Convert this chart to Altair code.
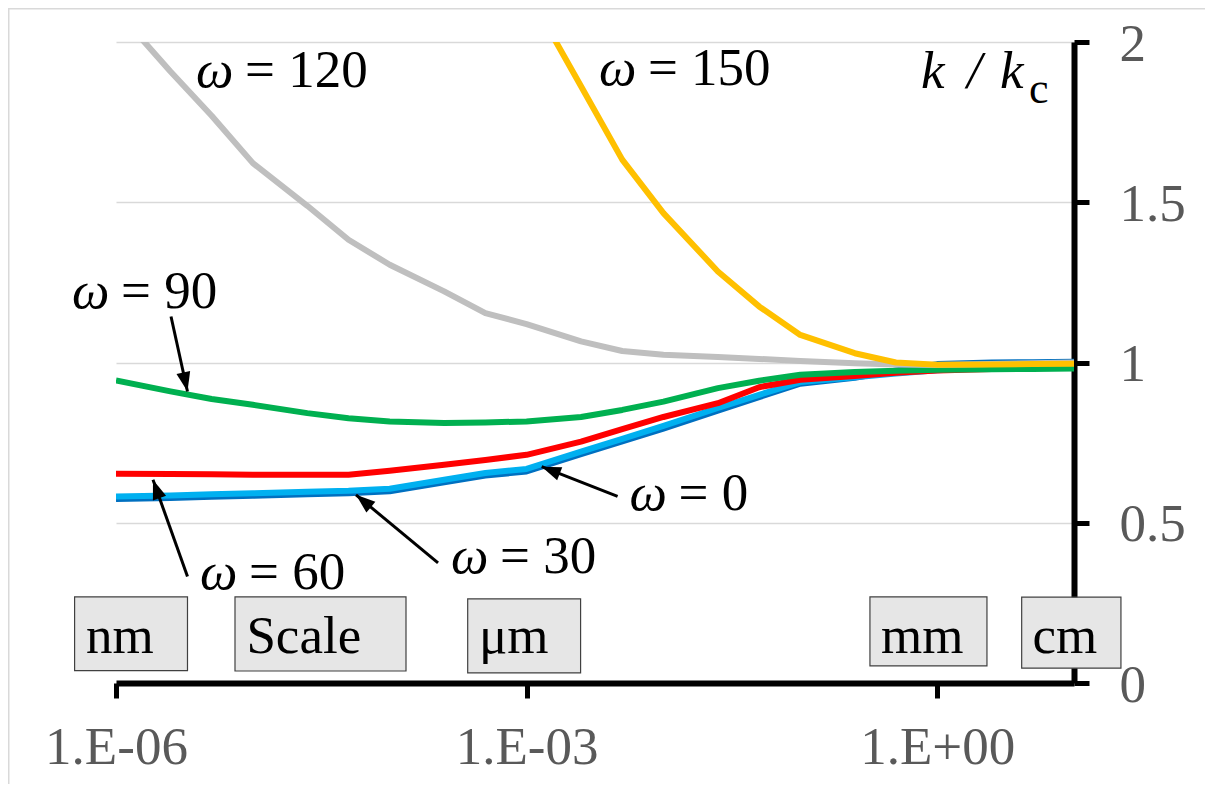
import altair as alt
import pandas as pd

# ---------------- data ----------------
x_vals = [1e-6, 2.5e-6, 5e-6, 1e-5, 2.5e-5, 5e-5, 1e-4, 2.5e-4, 5e-4,
          1e-3, 2.5e-3, 5e-3, 1e-2, 2.5e-2, 5e-2, 1e-1, 2.5e-1, 5e-1,
          1.0, 2.5, 5.0, 10.0]

k_w0 = [0.574, 0.577, 0.581, 0.584, 0.589, 0.592, 0.598, 0.626, 0.647,
        0.660, 0.714, 0.754, 0.794, 0.850, 0.892, 0.934, 0.952, 0.975,
        0.995, 1.000, 1.001, 1.002]
k_w30 = [0.582, 0.585, 0.589, 0.592, 0.597, 0.600, 0.606, 0.634, 0.655,
         0.668, 0.722, 0.762, 0.802, 0.858, 0.899, 0.939, 0.954, 0.966,
         0.976, 0.983, 0.988, 0.990]
k_w60 = [0.653, 0.652, 0.651, 0.650, 0.650, 0.650, 0.662, 0.681, 0.696,
         0.712, 0.753, 0.792, 0.830, 0.873, 0.923, 0.946, 0.958, 0.968,
         0.975, 0.980, 0.983, 0.985]
k_w90 = [0.944, 0.910, 0.886, 0.868, 0.842, 0.826, 0.816, 0.811, 0.813,
         0.816, 0.830, 0.852, 0.878, 0.920, 0.943, 0.962, 0.970, 0.974,
         0.977, 0.979, 0.980, 0.981]
k_w120 = [2.100, 1.908, 1.770, 1.622, 1.489, 1.383, 1.305, 1.222, 1.154,
          1.120, 1.066, 1.036, 1.024, 1.017, 1.011, 1.005, 0.998, 0.994,
          0.992, 0.995, 0.998, 1.000]
k_w150 = [None, None, None, None, None, None, None, None, None,
          2.163, 1.862, 1.633, 1.466, 1.284, 1.175, 1.086, 1.029, 1.000,
          0.993, 0.994, 0.995, 0.996]

series_values = [k_w0, k_w30, k_w60, k_w90, k_w120, k_w150]
series_names = ["ω = 0", "ω = 30", "ω = 60", "ω = 90", "ω = 120", "ω = 150"]
series_colors = ["#0070C0", "#00B0F0", "#FF0000", "#00B050", "#BFBFBF", "#FFC000"]

x_tick_values = [1e-6, 1e-3, 1.0]
x_tick_labels = ["1.E-06", "1.E-03", "1.E+00"]
y_tick_values = [0, 0.5, 1, 1.5, 2]

# curve labels (log10 x of text origin, baseline y)
lab_greek = ["ω", "ω", "ω", "ω", "ω", "ω"]
lab_rest = ["= 120", "= 150", "= 90", "= 60", "= 30", "= 0"]
lab_logx = [-5.4155, -2.471, -6.3215, -5.386, -3.552, -2.248]
lab_y = [1.860, 1.867, 1.171, 0.294, 0.344, 0.540]

# arrows (log10 x, y) tail -> head
arr_tail_logx = [-5.598, -5.4776, -3.647, -2.335]
arr_tail_y = [1.1436, 0.332, 0.375, 0.582]
arr_head_logx = [-5.4776, -5.7297, -4.2464, -2.8895]
arr_head_y = [0.9095, 0.634, 0.587, 0.675]
arr_angle = [167.6, 340.4, 309.7, 291.6]

# scale boxes
box_text = ["nm", "Scale", "μm", "mm", "cm"]
box_logx1 = [-6.3025, -5.1305, -3.4302, -0.491, 0.6177]
box_logx2 = [-5.4776, -3.881, -2.6053, 0.364, 1.343]
box_y1 = [0.2687, 0.2687, 0.2625, 0.2687, 0.2678]
box_y2 = [0.0387, 0.0374, 0.0315, 0.0534, 0.0462]
box_text_logx = [-6.2192, -5.0472, -3.348, -0.4104, 0.696]
box_text_y = [0.094, 0.094, 0.094, 0.094, 0.094]

# axis title pieces  k / k_c
title_text = ["k", "/", "k", "c"]
title_logx = [-0.118, 0.218, 0.459, 0.671]
title_y = [1.857, 1.857, 1.857, 1.81]
title_size = [53, 53, 53, 44]
title_style = ["italic", "italic", "italic", "normal"]

# ---------------- chart ----------------
FONT = "Liberation Serif"
FS = 53

x_label_expr = "[" + ",".join("'" + s + "'" for s in x_tick_labels) + "]" \
               "[round((log(datum.value)/LN10 + 6)/3)]"

x_scale = alt.Scale(type="log", domain=[1e-6, 10], nice=False)
y_scale = alt.Scale(domain=[0, 2], nice=False, zero=False)

x_axis = alt.Axis(values=x_tick_values, labelExpr=x_label_expr, grid=False,
                  title=None, domainColor="black", domainWidth=6,
                  tickColor="black", tickWidth=5, tickSize=15,
                  labelFont=FONT, labelFontSize=FS, labelColor="#595959",
                  labelPadding=23, labelFlush=False, labelOverlap=False)
y_axis = alt.Axis(orient="right", values=y_tick_values, format="~g",
                  grid=True, gridColor="#D9D9D9", gridWidth=1.5,
                  title=None, domainColor="black", domainWidth=6,
                  tickColor="black", tickWidth=5, tickSize=15,
                  labelFont=FONT, labelFontSize=FS, labelColor="#595959",
                  labelPadding=30, labelOffset=2, labelFlush=False,
                  labelOverlap=False)


def X(field):
    return alt.X(field, type="quantitative", scale=x_scale, axis=x_axis)


def Y(field):
    return alt.Y(field, type="quantitative", scale=y_scale, axis=y_axis)


layers = []

# boxes
boxes = pd.DataFrame({
    "x1": [10 ** v for v in box_logx1], "x2": [10 ** v for v in box_logx2],
    "y1": box_y1, "y2": box_y2,
    "tx": [10 ** v for v in box_text_logx], "ty": box_text_y, "t": box_text,
})
layers.append(alt.Chart(boxes).mark_rect(fill="#E6E6E6", stroke="#404040",
                                         strokeWidth=1.2).encode(
    x=X("x1"), x2="x2", y=Y("y1"), y2="y2"))
layers.append(alt.Chart(boxes).mark_text(font=FONT, fontSize=FS, color="black",
                                         align="left", baseline="alphabetic").encode(
    x=X("tx"), y=Y("ty"), text="t:N"))

# curves
for name, vals, col in zip(series_names, series_values, series_colors):
    df = pd.DataFrame({"x": x_vals, "k": vals, "s": name}).dropna()
    layers.append(alt.Chart(df).mark_line(color=col, strokeWidth=6,
                                          strokeJoin="round", clip=True).encode(
        x=X("x"), y=Y("k")))

# arrows
arrows = pd.DataFrame({
    "tx": [10 ** v for v in arr_tail_logx], "ty": arr_tail_y,
    "hx": [10 ** v for v in arr_head_logx], "hy": arr_head_y,
    "ang": arr_angle,
})
layers.append(alt.Chart(arrows).mark_rule(color="black", strokeWidth=3).encode(
    x=X("tx"), y=Y("ty"), x2="hx", y2="hy"))
layers.append(alt.Chart(arrows).mark_point(
    shape="M0,0L-0.36,1L0.36,1Z", filled=True, fill="black", stroke=None,
    size=1500, opacity=1).encode(
    x=X("hx"), y=Y("hy"), angle=alt.Angle("ang:Q", scale=None)))

# curve labels
labels = pd.DataFrame({
    "x": [10 ** v for v in lab_logx], "y": lab_y,
    "g": lab_greek, "r": lab_rest,
})
layers.append(alt.Chart(labels).mark_text(font=FONT, fontSize=FS, fontStyle="italic",
                                          color="black", align="left",
                                          baseline="alphabetic").encode(
    x=X("x"), y=Y("y"), text="g:N"))
layers.append(alt.Chart(labels).mark_text(font=FONT, fontSize=FS, color="black",
                                          align="left", baseline="alphabetic",
                                          dx=49).encode(
    x=X("x"), y=Y("y"), text="r:N"))

# axis title k / k_c
title_df = pd.DataFrame({
    "x": [10 ** v for v in title_logx], "y": title_y, "t": title_text,
    "fs": title_size, "st": title_style,
})
for style in ["italic", "normal"]:
    sub = title_df[title_df["st"] == style]
    layers.append(alt.Chart(sub).mark_text(font=FONT, fontStyle=style, color="black",
                                           align="left", baseline="alphabetic").encode(
        x=X("x"), y=Y("y"), text="t:N",
        size=alt.Size("fs:Q", scale=None, legend=None)))

# faint outer frame
layers.append(alt.Chart(pd.DataFrame({"a": [0]})).mark_rect(
    fillOpacity=0, stroke="#D9D9D9", strokeWidth=1.5).encode(
    x=alt.value(-107.25), x2=alt.value(1200), y=alt.value(-33.25), y2=alt.value(900)))

chart = alt.layer(*layers).properties(
    width=958, height=641,
    autosize=alt.AutoSizeParams(type="none"),
    padding={"left": 108, "top": 34, "right": 131, "bottom": 101},
    background="white",
).configure_view(stroke=None)

chart.save("out.html", embed_options={"renderer": "svg", "actions": False})
